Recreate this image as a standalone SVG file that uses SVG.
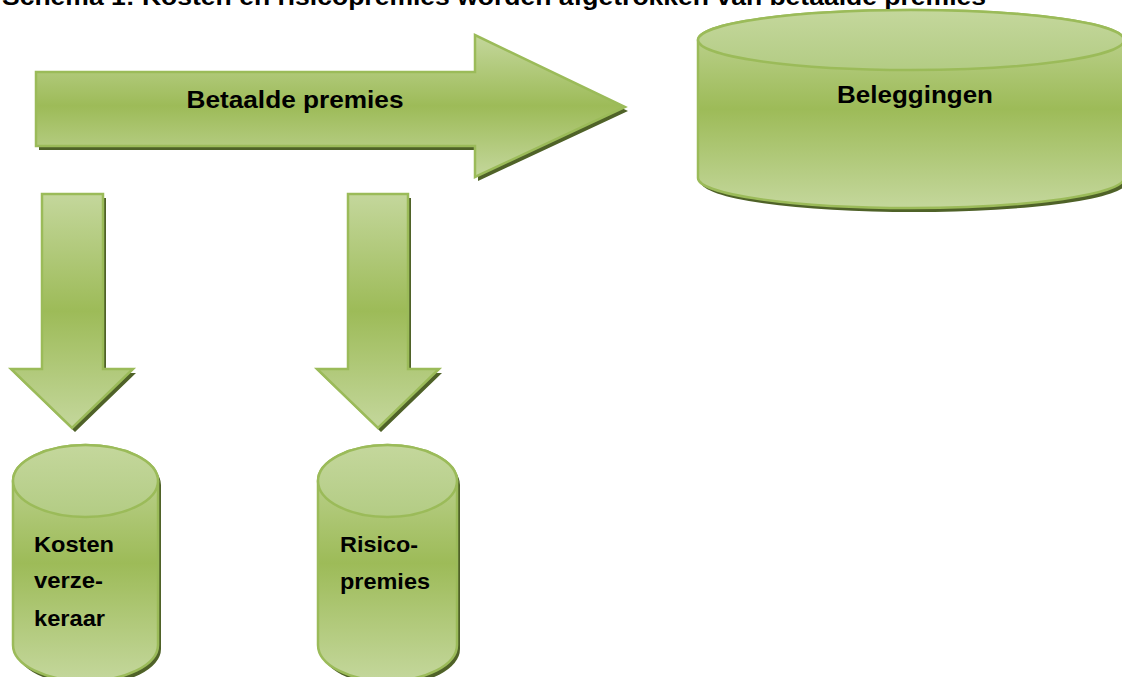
<svg xmlns="http://www.w3.org/2000/svg" width="1122" height="677" viewBox="0 0 1122 677">
<defs>
<linearGradient id="g" x1="0" y1="0" x2="0" y2="1">
<stop offset="0" stop-color="#c4d79c"/>
<stop offset="0.5" stop-color="#9dbb58"/>
<stop offset="1" stop-color="#c4d79c"/>
</linearGradient>
<linearGradient id="gt" x1="0" y1="0" x2="0" y2="1">
<stop offset="0" stop-color="#c4d79c"/>
<stop offset="1" stop-color="#b3cc84"/>
</linearGradient>
</defs>
<style>
.sh{fill:#4f6228;}
.sf{fill:url(#g);stroke:#9bbb59;stroke-width:2.5;stroke-linejoin:miter;}
.top{fill:url(#gt);stroke:#9bbb59;stroke-width:2.5;}
.t{font-family:"Liberation Sans",Arial,sans-serif;font-weight:bold;fill:#000;}
</style>
<rect width="1122" height="677" fill="#fff"/>
<text class="t" x="2" y="5" font-size="23" textLength="984" lengthAdjust="spacingAndGlyphs">Schema 1: Kosten en risicopremies worden afgetrokken van betaalde premies</text>
<g id="connectors">
<g id="arrow-betaalde-premies">
<path class="sh" transform="translate(3,4)" d="M36,72 H475 V35 L625,107 L475,177 V146 H36 Z"/>
<path class="sf" d="M36,72 H475 V35 L625,107 L475,177 V146 H36 Z"/>
<text class="t" x="295" y="108" font-size="23" text-anchor="middle" textLength="217" lengthAdjust="spacingAndGlyphs">Betaalde premies</text>
</g>
<g id="arrow-kosten">
<path class="sh" transform="translate(3,4)" d="M42,194 H103 V369 H133 L72,428 L11,369 H42 Z"/>
<path class="sf" d="M42,194 H103 V369 H133 L72,428 L11,369 H42 Z"/>
</g>
<g id="arrow-risico">
<path class="sh" transform="translate(3,4)" d="M348,194 H408 V369 H439 L378,428 L317,369 H348 Z"/>
<path class="sf" d="M348,194 H408 V369 H439 L378,428 L317,369 H348 Z"/>
</g>
</g>
<g id="node-beleggingen">
<path class="sh" transform="translate(3,4)" d="M698,40 A213,30 0 0 1 1124,40 V178 A213,30 0 0 1 698,178 Z"/>
<path class="sf" d="M698,40 A213,30 0 0 1 1124,40 V178 A213,30 0 0 1 698,178 Z"/>
<ellipse class="top" cx="911" cy="40" rx="213" ry="30"/>
<text class="t" x="915" y="103" font-size="23" text-anchor="middle" textLength="156" lengthAdjust="spacingAndGlyphs">Beleggingen</text>
</g>
<g id="node-kosten">
<path class="sh" transform="translate(3,4)" d="M13,481 A72.5,36 0 0 1 158,481 V645 A72.5,36 0 0 1 13,645 Z"/>
<path class="sf" d="M13,481 A72.5,36 0 0 1 158,481 V645 A72.5,36 0 0 1 13,645 Z"/>
<ellipse class="top" cx="85.5" cy="481" rx="72.5" ry="36"/>
<text class="t" x="34" y="552" font-size="22.5" textLength="80" lengthAdjust="spacingAndGlyphs">Kosten</text>
<text class="t" x="34" y="588" font-size="22.5" textLength="69" lengthAdjust="spacingAndGlyphs">verze-</text>
<text class="t" x="34" y="626" font-size="22.5" textLength="71" lengthAdjust="spacingAndGlyphs">keraar</text>
</g>
<g id="node-risico">
<path class="sh" transform="translate(3,4)" d="M318,481 A69.5,36 0 0 1 457,481 V645 A69.5,36 0 0 1 318,645 Z"/>
<path class="sf" d="M318,481 A69.5,36 0 0 1 457,481 V645 A69.5,36 0 0 1 318,645 Z"/>
<ellipse class="top" cx="387.5" cy="481" rx="69.5" ry="36"/>
<text class="t" x="340" y="552" font-size="22.5" textLength="78" lengthAdjust="spacingAndGlyphs">Risico-</text>
<text class="t" x="340" y="589" font-size="22.5" textLength="90" lengthAdjust="spacingAndGlyphs">premies</text>
</g>
</svg>
